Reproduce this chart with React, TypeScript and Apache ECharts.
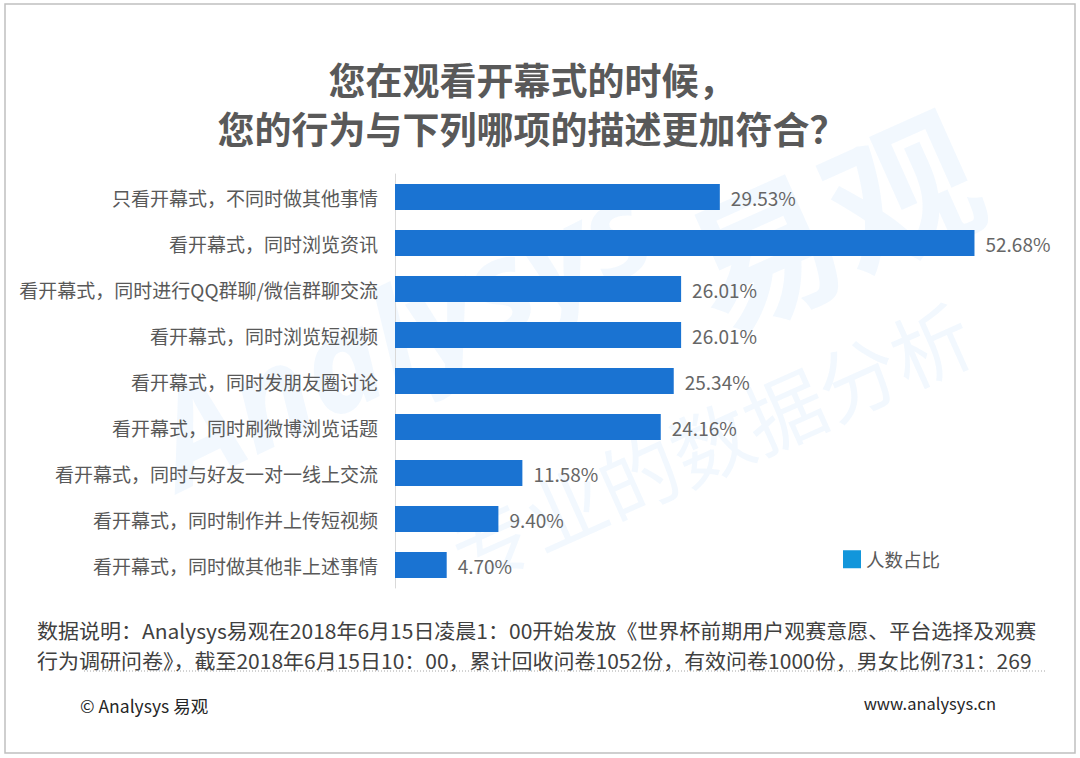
import React, { useEffect, useRef } from "react";
import * as echarts from "echarts";

const categories = [
  "只看开幕式，不同时做其他事情",
  "看开幕式，同时浏览资讯",
  "看开幕式，同时进行QQ群聊/微信群聊交流",
  "看开幕式，同时浏览短视频",
  "看开幕式，同时发朋友圈讨论",
  "看开幕式，同时刷微博浏览话题",
  "看开幕式，同时与好友一对一线上交流",
  "看开幕式，同时制作并上传短视频",
  "看开幕式，同时做其他非上述事情",
];
const values = [29.53, 52.68, 26.01, 26.01, 25.34, 24.16, 11.58, 9.4, 4.7];
const seriesName = "人数占比";
const titleLines = ["您在观看开幕式的时候，", "您的行为与下列哪项的描述更加符合？"];
const noteLines = [
  "数据说明：Analysys易观在2018年6月15日凌晨1：00开始发放《世界杯前期用户观赛意愿、平台选择及观赛",
  "行为调研问卷》，截至2018年6月15日10：00，累计回收问卷1052份，有效问卷1000份，男女比例731：269",
];
const footerLeft = "© Analysys 易观";
const footerRight = "www.analysys.cn";

const FONT = "'Noto Sans CJK SC', 'Microsoft YaHei', sans-serif";

export default function App() {
  const ref = useRef<HTMLDivElement>(null);
  useEffect(() => {
    if (!ref.current) return;
    const chart = echarts.init(ref.current, undefined, { renderer: "svg" });
    const wm = "rgba(30,140,230,0.06)";
    chart.setOption({
      animation: false,
      backgroundColor: "#ffffff",
      textStyle: { fontFamily: FONT },
      grid: { left: 395, top: 174, width: 605, height: 414, containLabel: false },
      xAxis: {
        type: "value",
        min: 0,
        max: 55,
        show: false,
      },
      yAxis: {
        type: "category",
        inverse: true,
        data: categories,
        axisLine: { show: true, lineStyle: { color: "#d9d9d9", width: 1 } },
        axisTick: { show: false },
        axisLabel: { color: "#595959", fontSize: 19, margin: 17, fontFamily: FONT },
      },
      legend: {
        left: 838,
        top: 545,
        itemWidth: 18,
        itemHeight: 18,
        itemGap: 10,
        icon: "rect",
        textStyle: { color: "#595959", fontSize: 18.5, fontFamily: FONT },
        data: [{ name: seriesName, itemStyle: { color: "#1296db" } }],
      },
      series: [
        {
          name: seriesName,
          type: "bar",
          data: values,
          barWidth: 26,
          itemStyle: { color: "#1a73d2" },
          label: {
            show: true,
            position: "right",
            distance: 11,
            color: "#666666",
            fontSize: 19,
            fontFamily: FONT,
            formatter: (p: any) => p.value.toFixed(2) + "%",
          },
          z: 3,
        },
      ],
      graphic: [
        {
          type: "rect",
          z: -10,
          shape: { x: 5, y: 4, width: 1070, height: 749 },
          style: { fill: "none", stroke: "#c0c0c0", lineWidth: 1.5 },
        },
        {
          type: "text",
          z: -5,
          x: 400,
          y: 330,
          rotation: 0.45,
          style: { text: "Analysys", fill: wm, font: "italic bold 130px 'Open Sans', sans-serif", align: "center", verticalAlign: "middle" },
        },
        {
          type: "text",
          z: -5,
          x: 830,
          y: 215,
          rotation: 0.42,
          style: { text: "易观", fill: wm, font: "bold 150px " + FONT, align: "center", verticalAlign: "middle" },
        },
        {
          type: "text",
          z: -5,
          x: 710,
          y: 440,
          rotation: 0.42,
          style: { text: "专业的数据分析", fill: wm, font: "80px " + FONT, align: "center", verticalAlign: "middle" },
        },
        {
          type: "text",
          x: 532,
          y: 79,
          style: { text: titleLines[0], fill: "#595959", font: "bold 37px " + FONT, align: "center", verticalAlign: "middle" },
        },
        {
          type: "text",
          x: 532,
          y: 128,
          style: { text: titleLines[1], fill: "#595959", font: "bold 37px " + FONT, align: "center", verticalAlign: "middle" },
        },
        {
          type: "text",
          x: 37,
          y: 630,
          scaleX: 1.05,
          style: { text: noteLines[0], fill: "#404040", font: "20px " + FONT, verticalAlign: "middle" },
        },
        {
          type: "text",
          x: 37,
          y: 660,
          scaleX: 1.05,
          style: { text: noteLines[1], fill: "#404040", font: "20px " + FONT, verticalAlign: "middle" },
        },
        {
          type: "line",
          z: -1,
          shape: { x1: 84, y1: 671, x2: 1046, y2: 671 },
          style: { stroke: "#a6a6a6", lineWidth: 1, lineDash: [1, 2] },
        },
        {
          type: "text",
          x: 80,
          y: 705,
          style: { text: footerLeft, fill: "#262626", font: "17.5px " + FONT, verticalAlign: "middle" },
        },
        {
          type: "text",
          x: 996,
          y: 703,
          style: { text: footerRight, fill: "#262626", font: "16.5px " + FONT, align: "right", verticalAlign: "middle" },
        },
      ],
    });
    return () => chart.dispose();
  }, []);
  return (
    <div
      ref={ref}
      style={{ position: "fixed", left: 0, top: 0, width: 1080, height: 758 }}
    />
  );
}
